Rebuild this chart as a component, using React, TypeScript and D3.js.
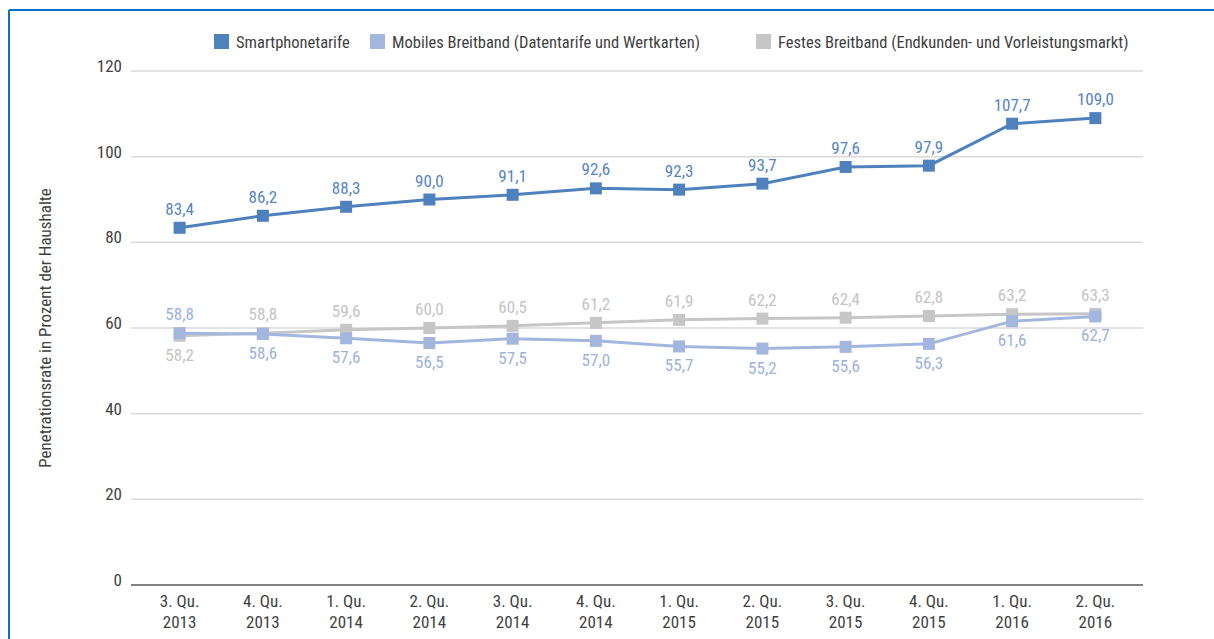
import React from "react";
import * as d3 from "d3";

const quarters = ["3. Qu.", "4. Qu.", "1. Qu.", "2. Qu.", "3. Qu.", "4. Qu.", "1. Qu.", "2. Qu.", "3. Qu.", "4. Qu.", "1. Qu.", "2. Qu."];
const years = ["2013", "2013", "2014", "2014", "2014", "2014", "2015", "2015", "2015", "2015", "2016", "2016"];
const smartphone = [83.4, 86.2, 88.3, 90.0, 91.1, 92.6, 92.3, 93.7, 97.6, 97.9, 107.7, 109.0];
const mobileBB = [58.8, 58.6, 57.6, 56.5, 57.5, 57.0, 55.7, 55.2, 55.6, 56.3, 61.6, 62.7];
const fixedBB = [58.2, 58.8, 59.6, 60.0, 60.5, 61.2, 61.9, 62.2, 62.4, 62.8, 63.2, 63.3];
const yTicks = [0, 20, 40, 60, 80, 100, 120];

const seriesNames = [
  "Smartphonetarife",
  "Mobiles Breitband (Datentarife und Wertkarten)",
  "Festes Breitband (Endkunden- und Vorleistungsmarkt)",
];

const W = 1214;
const H = 639;
const FONT = "'Liberation Sans Narrow', 'Arial Narrow', 'Roboto Condensed', sans-serif";

const C_SMART = "#4f81bd";
const C_MOBILE = "#a3b7de";
const C_FIXED = "#c6c6c6";
const L_SMART = "#5585c5";
const L_MOBILE = "#9cb2dc";
const L_FIXED = "#c4c4c4";
const TEXT = "#3f3f3f";

const fmt = (v: number) => v.toFixed(1).replace(".", ",");

export default function App() {
  const idx = quarters.map((_, i) => String(i));
  const x = d3.scaleBand<string>().domain(idx).range([138, 1137]);
  const y = d3.scaleLinear().domain([0, 120]).range([585, 71]);
  const cx = (i: number) => (x(String(i)) as number) + x.bandwidth() / 2;

  const line = d3
    .line<number>()
    .x((_, i) => cx(i))
    .y((d) => y(d));

  const series = [
    { data: fixedBB, color: C_FIXED, label: L_FIXED, pos: (i: number) => (i === 0 ? "below" : "above") },
    { data: mobileBB, color: C_MOBILE, label: L_MOBILE, pos: (i: number) => (i === 0 ? "above" : "below") },
    { data: smartphone, color: C_SMART, label: L_SMART, pos: () => "above" },
  ];

  const legend = [
    { name: seriesNames[0], color: C_SMART, x: 214 },
    { name: seriesNames[1], color: C_MOBILE, x: 370 },
    { name: seriesNames[2], color: C_FIXED, x: 756 },
  ];

  const ms = 12;

  return (
    <svg
      width={W}
      height={H}
      style={{ position: "absolute", left: 0, top: 0, background: "#fff" }}
      fontFamily={FONT}
    >
      {/* frame */}
      <line x1={9} y1={10} x2={W} y2={10} stroke="#0a6ec4" strokeWidth={2} />
      <line x1={9} y1={10} x2={9} y2={H} stroke="#0a6ec4" strokeWidth={2} />

      {/* legend */}
      {legend.map((l) => (
        <g key={l.name}>
          <rect x={l.x} y={34} width={15} height={15} fill={l.color} />
          <text x={l.x + 22} y={48} fontSize={16.5} fill={TEXT}>
            {l.name}
          </text>
        </g>
      ))}

      {/* gridlines and y ticks */}
      {yTicks.map((t) => (
        <g key={t}>
          <line
            x1={131}
            x2={1143}
            y1={y(t)}
            y2={y(t)}
            stroke={t === 0 ? "#595959" : "#d9d9d9"}
            strokeWidth={1.5}
          />
          <text x={122} y={y(t) + 1} textAnchor="end" fontSize={17} fill={TEXT}>
            {t}
          </text>
        </g>
      ))}

      {/* y title */}
      <text
        transform={`translate(51,${(y(0) + y(120)) / 2}) rotate(-90)`}
        textAnchor="middle"
        fontSize={17}
        fill={TEXT}
      >
        Penetrationsrate in Prozent der Haushalte
      </text>

      {/* x labels */}
      {quarters.map((q, i) => (
        <text key={i} x={cx(i)} textAnchor="middle" fontSize={17} fill={TEXT}>
          <tspan x={cx(i)} y={607}>
            {q}
          </tspan>
          <tspan x={cx(i)} y={628}>
            {years[i]}
          </tspan>
        </text>
      ))}

      {/* series lines and markers */}
      {series.map((s, si) => (
        <g key={si}>
          <path d={line(s.data) || ""} fill="none" stroke={s.color} strokeWidth={3} />
          {s.data.map((v, i) => (
            <rect key={i} x={cx(i) - ms / 2} y={y(v) - ms / 2} width={ms} height={ms} fill={s.color} />
          ))}
        </g>
      ))}

      {/* data labels */}
      {series.map((s, si) => (
        <g key={"l" + si}>
          {s.data.map((v, i) => (
            <text
              key={i}
              x={cx(i)}
              y={s.pos(i) === "above" ? y(v) - 13 : y(v) + 25}
              textAnchor="middle"
              fontSize={17}
              fill={s.label}
            >
              {fmt(v)}
            </text>
          ))}
        </g>
      ))}
    </svg>
  );
}
